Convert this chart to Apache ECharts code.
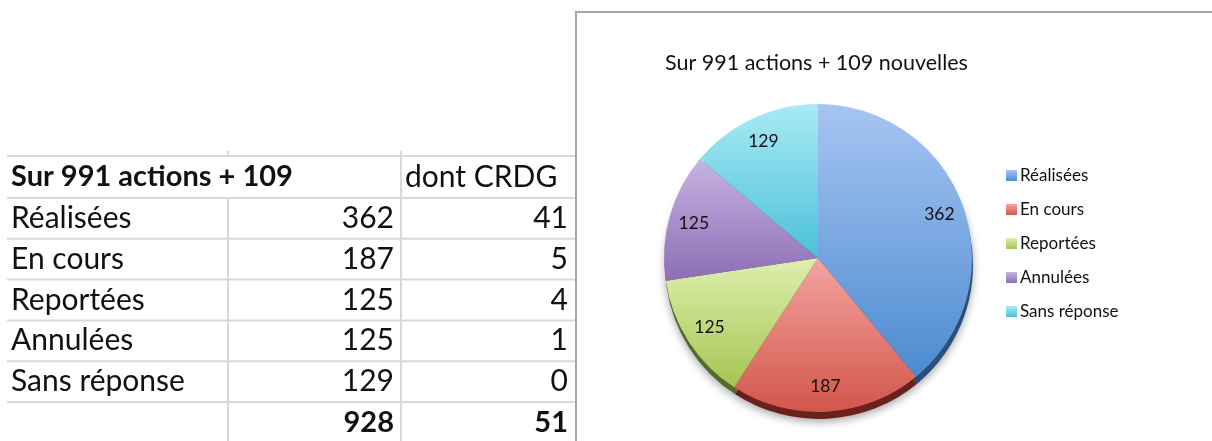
<!DOCTYPE html>
<html>
<head>
<meta charset="utf-8">
<title>Sur 991 actions + 109 nouvelles</title>
<script src="https://cdn.jsdelivr.net/npm/echarts@6/dist/echarts.min.js"></script>
<style>
  html, body { margin: 0; padding: 0; background: #fff; }
  #chart { width: 1212px; height: 441px; }
</style>
</head>
<body>
<div id="chart"></div>
<script>
// données du tableau / du camembert
const categories = ['Réalisées', 'En cours', 'Reportées', 'Annulées', 'Sans réponse'];
const actions = [362, 187, 125, 125, 129];
const dontCrdg = [41, 5, 4, 1, 0];
const tableHeader = ['Sur 991 actions + 109', 'dont CRDG'];
const chartTitle = 'Sur 991 actions + 109 nouvelles';

// couleurs (haut / bas du dégradé, bord 3D)
const topColors = ['#a7c5f2', '#f3a4a0', '#deefad', '#c7b3e2', '#aaeaf5'];
const bottomColors = ['#4c8bd0', '#d3564c', '#a5c552', '#8c6eb5', '#4ac1d9'];
const rimColors = ['#28507a', '#6a211c', '#56692a', '#5a4480', '#2a7f90'];

const sum = (arr) => arr.reduce((a, b) => a + b, 0);

const chartDom = document.getElementById('chart');
const myChart = echarts.init(chartDom);

// --- tableau (style tableur) ---
const lineColor = '#d9d9d9';
const tblLeft = 7, tblRight = 576;
const colA = 228, colB = 401;
const headTop = 156, headBottom = 198, rowH = 40.8;
const graphic = [];

const hline = (y) => ({
  type: 'line', silent: true,
  shape: { x1: tblLeft, y1: y, x2: tblRight, y2: y },
  style: { stroke: lineColor, lineWidth: 2 }
});
const vline = (x, y1, y2) => ({
  type: 'line', silent: true,
  shape: { x1: x, y1: y1, x2: x, y2: y2 },
  style: { stroke: lineColor, lineWidth: 2 }
});
const txt = (text, x, y, align, bold) => ({
  type: 'text', x: x, y: y, silent: true,
  style: {
    text: text, align: align, verticalAlign: 'middle',
    fontFamily: 'Lato', fontSize: bold ? 29 : 30, fontWeight: bold ? 'bold' : 'normal',
    fill: '#111'
  }
});

graphic.push(hline(headTop));
for (let i = 0; i <= categories.length; i++) {
  graphic.push(hline(headBottom + i * rowH));
}
graphic.push(vline(colA, headTop - 5, headTop));
graphic.push(vline(colA, headBottom, 441));
graphic.push(vline(colB, headTop - 5, 441));

graphic.push(txt(tableHeader[0], 11, (headTop + headBottom) / 2, 'left', true));
graphic.push(txt(tableHeader[1], 405, (headTop + headBottom) / 2, 'left', false));
categories.forEach((name, i) => {
  const y = headBottom + i * rowH + rowH / 2;
  graphic.push(txt(name, 11, y, 'left', false));
  graphic.push(txt(String(actions[i]), 394, y, 'right', false));
  graphic.push(txt(String(dontCrdg[i]), 568, y, 'right', false));
});
const totalY = headBottom + categories.length * rowH + rowH / 2;
graphic.push(txt(String(sum(actions)), 394, totalY, 'right', true));
graphic.push(txt(String(sum(dontCrdg)), 568, totalY, 'right', true));

// cadre du graphique
graphic.push({
  type: 'polyline', silent: true,
  shape: { points: [[576, 445], [576, 12], [1215, 12]] },
  style: { stroke: '#a6a6a6', lineWidth: 2, fill: null }
});

// --- camembert ---
const pieCenter = [818, 258];
const pieRadius = 154;

const mainData = categories.map((name, i) => ({
  name: name,
  value: actions[i],
  itemStyle: {
    color: new echarts.graphic.LinearGradient(0, 0, 0, 1, [
      { offset: 0, color: topColors[i] },
      { offset: 1, color: bottomColors[i] }
    ])
  }
}));
const rimData = categories.map((name, i) => ({
  name: name,
  value: actions[i],
  itemStyle: { color: rimColors[i] }
}));
const labelData = categories.map((name, i) => ({ name: name, value: actions[i] }));

const option = {
  backgroundColor: '#fff',
  animation: false,
  title: {
    text: chartTitle,
    left: 665,
    top: 52,
    padding: 0,
    textStyle: { fontFamily: 'Lato', fontSize: 21.5, fontWeight: 'normal', color: '#111' }
  },
  legend: {
    orient: 'vertical',
    left: 1006,
    top: 167,
    itemWidth: 11,
    itemHeight: 11,
    itemGap: 17,
    icon: 'rect',
    padding: 0,
    data: categories,
    textStyle: { fontFamily: 'Lato', fontSize: 17, color: '#111', padding: [0, 0, 0, -2] }
  },
  graphic: graphic,
  series: [
    {
      name: 'actions',
      type: 'pie',
      z: 3,
      center: pieCenter,
      radius: [0, pieRadius],
      startAngle: 90,
      clockwise: true,
      silent: true,
      label: { show: false },
      labelLine: { show: false },
      itemStyle: { borderWidth: 0 },
      data: mainData
    },
    {
      // bord 3D sous le disque
      name: 'rim',
      type: 'pie',
      z: 2,
      center: [pieCenter[0] + 1, pieCenter[1] + 7],
      radius: [0, pieRadius],
      startAngle: 90,
      clockwise: true,
      silent: true,
      label: { show: false },
      labelLine: { show: false },
      itemStyle: {
        borderWidth: 0,
        shadowBlur: 8,
        shadowOffsetY: 3,
        shadowColor: 'rgba(0,0,0,0.35)'
      },
      data: rimData
    },
    {
      // étiquettes des valeurs
      name: 'labels',
      type: 'pie',
      z: 4,
      center: pieCenter,
      radius: [98, pieRadius],
      startAngle: 90,
      clockwise: true,
      silent: true,
      itemStyle: { color: 'rgba(0,0,0,0)', borderWidth: 0 },
      label: {
        show: true,
        position: 'inside',
        formatter: '{c}',
        fontFamily: 'Lato',
        fontSize: 17.5,
        color: '#111'
      },
      labelLine: { show: false },
      data: labelData
    }
  ]
};

myChart.setOption(option);

window.addEventListener('resize', () => {
  myChart.resize();
});
</script>
</body>
</html>
